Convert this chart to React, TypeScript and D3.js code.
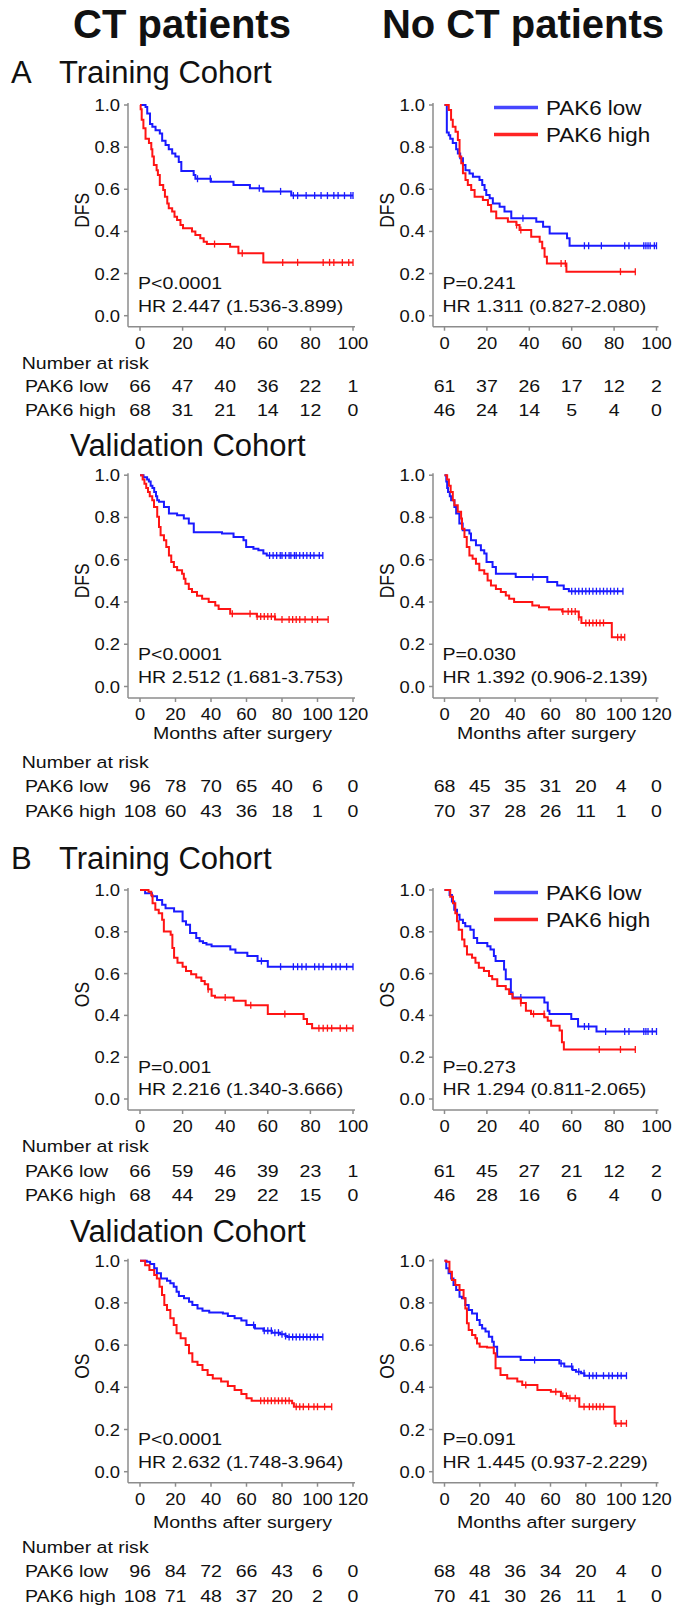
import React from 'react';
import * as d3 from 'd3';

type Step = [number, number];

const FONT = '"Liberation Sans", Arial, Helvetica, sans-serif';
const SX = 1.15; // the small figure text is slightly widened
const BLUE = '#1a1aff';
const RED = '#ff1414';
const AXIS = '#8c8c8c';
const INK = '#111';

const columnTitles = ['CT patients', 'No CT patients'];
const seriesNames = ['PAK6 low', 'PAK6 high'];
const yTicks = [0, 0.2, 0.4, 0.6, 0.8, 1.0];
const ticks100 = [0, 20, 40, 60, 80, 100];
const ticks120 = [0, 20, 40, 60, 80, 100, 120];

// ---------- A: DFS, training cohort, CT ----------
const aTrainCtLow: Step[] = [[2.6, 0.99], [3.4, 0.96], [4.7, 0.91], [5.8, 0.897], [7.3, 0.88], [9.3, 0.865], [10.4, 0.83], [12, 0.81], [13.5, 0.79], [15.1, 0.77], [16.6, 0.755], [18.2, 0.73], [19.4, 0.687], [25.2, 0.668], [26, 0.65], [33.3, 0.636], [43.9, 0.62], [51.6, 0.605], [57.9, 0.59], [71, 0.57]];
const aTrainCtLowCens = [27, 33, 56, 66, 72, 74, 78, 82, 85, 88, 91, 93, 96, 99, 100];
const aTrainCtHigh: Step[] = [[0.3, 0.98], [0.8, 0.93], [1.6, 0.89], [2.6, 0.84], [4.2, 0.82], [5.3, 0.79], [5.8, 0.755], [6.5, 0.715], [7.8, 0.69], [8.4, 0.668], [9.3, 0.62], [10.9, 0.597], [11.7, 0.565], [12.8, 0.533], [13.5, 0.51], [15.1, 0.494], [16.2, 0.47], [17.4, 0.454], [19, 0.43], [20.2, 0.415], [24.4, 0.4], [26, 0.383], [28.3, 0.367], [29.9, 0.351], [31.4, 0.34], [42.3, 0.327], [46.2, 0.296], [57.9, 0.253]];
const aTrainCtHighCens = [35, 48, 67, 74, 86, 89, 91, 95, 98, 100];
const aTrainCtRiskLow = [66, 47, 40, 36, 22, 1];
const aTrainCtRiskHigh = [68, 31, 21, 14, 12, 0];

// ---------- A: DFS, training cohort, no CT ----------
const aTrainNoLow: Step[] = [[1.1, 0.87], [2, 0.857], [2.7, 0.84], [3.9, 0.82], [5.5, 0.79], [6.3, 0.77], [7.4, 0.747], [8.7, 0.715], [9.9, 0.69], [11.8, 0.675], [13.4, 0.66], [16.5, 0.644], [17.8, 0.62], [18.9, 0.597], [19.7, 0.573], [21.3, 0.557], [22.8, 0.533], [26, 0.517], [28.3, 0.494], [31.5, 0.462], [43.3, 0.446], [46.5, 0.422], [49.6, 0.39], [57.8, 0.367], [59, 0.332]];
const aTrainNoLowCens = [37, 66, 68, 74, 85, 87, 94, 95, 96, 97, 99, 100];
const aTrainNoHigh: Step[] = [[2, 0.976], [3.1, 0.93], [3.9, 0.897], [5.2, 0.873], [6.3, 0.834], [7.1, 0.755], [7.9, 0.723], [8.7, 0.676], [9.9, 0.644], [11, 0.62], [12.6, 0.597], [14.2, 0.565], [18.1, 0.549], [20.5, 0.525], [22, 0.494], [24.4, 0.462], [29.9, 0.446], [33.9, 0.43], [35.4, 0.407], [40.9, 0.375], [44.9, 0.351], [46.1, 0.32], [47.2, 0.28], [48.3, 0.248], [57.5, 0.209]];
const aTrainNoHighCens = [34, 36, 55, 57, 83, 90];
const aTrainNoRiskLow = [61, 37, 26, 17, 12, 2];
const aTrainNoRiskHigh = [46, 24, 14, 5, 4, 0];

// ---------- A: DFS, validation cohort, CT ----------
const aValCtLow: Step[] = [[2, 0.99], [4, 0.98], [5, 0.97], [6, 0.95], [7, 0.94], [8, 0.92], [9, 0.9], [9.7, 0.882], [10.7, 0.874], [13.5, 0.85], [16.3, 0.819], [20.9, 0.81], [24.7, 0.795], [27.5, 0.771], [30.3, 0.73], [46.2, 0.724], [52.7, 0.708], [58.3, 0.692], [59.8, 0.66], [63.9, 0.652], [66.7, 0.645], [69.5, 0.629], [71.4, 0.62]];
const aValCtLowCens = [73, 75, 77, 79, 80, 82, 84, 85, 87, 88, 90, 92, 94, 96, 98, 101, 103];
const aValCtHigh: Step[] = [[1.5, 0.98], [2.5, 0.96], [3.5, 0.94], [4.5, 0.92], [5.5, 0.9], [6.9, 0.882], [7.9, 0.85], [9.7, 0.803], [10.7, 0.755], [11.6, 0.716], [13.5, 0.692], [14.8, 0.66], [16.3, 0.62], [17.6, 0.589], [19.1, 0.565], [20.9, 0.55], [23.7, 0.534], [24.7, 0.51], [25.6, 0.486], [27.5, 0.462], [29.3, 0.447], [32.1, 0.43], [35, 0.415], [38.7, 0.4], [42.4, 0.383], [44.3, 0.367], [50.8, 0.344], [65.8, 0.331], [76.1, 0.317]];
const aValCtHighCens = [52, 62, 66, 68, 70, 72, 74, 76, 80, 84, 86, 88, 90, 93, 97, 100, 106];
const aValCtRiskLow = [96, 78, 70, 65, 40, 6, 0];
const aValCtRiskHigh = [108, 60, 43, 36, 18, 1, 0];

// ---------- A: DFS, validation cohort, no CT ----------
const aValNoLow: Step[] = [[1, 0.97], [1.5, 0.94], [2, 0.92], [3, 0.9], [3.75, 0.882], [5.6, 0.85], [6.6, 0.819], [8.4, 0.771], [10.3, 0.74], [14.1, 0.724], [15, 0.692], [17.8, 0.668], [20.6, 0.645], [22.5, 0.629], [23.8, 0.589], [27.2, 0.565], [29.1, 0.534], [40.3, 0.518], [58.2, 0.494], [63.8, 0.478], [67.5, 0.462], [70.4, 0.451]];
const aValNoLowCens = [50, 72, 74, 76, 78, 80, 82, 84, 86, 88, 90, 92, 94, 96, 98, 101];
const aValNoHigh: Step[] = [[1.5, 0.98], [2.5, 0.95], [3.5, 0.92], [4.7, 0.882], [5.6, 0.858], [7.5, 0.827], [9.4, 0.795], [9.9, 0.747], [11.3, 0.708], [12.6, 0.66], [14.1, 0.62], [15.9, 0.605], [17.8, 0.581], [19.7, 0.55], [22.5, 0.534], [24.4, 0.502], [26.3, 0.478], [29.1, 0.462], [31.9, 0.447], [34.7, 0.431], [36.6, 0.415], [39.4, 0.4], [49.7, 0.383], [53.5, 0.375], [59.1, 0.364], [66.6, 0.355], [76, 0.328], [77.5, 0.301], [94.7, 0.233]];
const aValNoHighCens = [67, 70, 72, 74, 76, 80, 82, 84, 86, 88, 90, 98, 100, 102];
const aValNoRiskLow = [68, 45, 35, 31, 20, 4, 0];
const aValNoRiskHigh = [70, 37, 28, 26, 11, 1, 0];

// ---------- B: OS, training cohort, CT ----------
const bTrainCtLow: Step[] = [[2.4, 0.984], [5.6, 0.97], [8, 0.952], [10.4, 0.929], [12, 0.913], [16, 0.897], [20, 0.85], [21.6, 0.834], [23.5, 0.794], [26.4, 0.77], [28, 0.755], [29.6, 0.747], [31.2, 0.739], [33.6, 0.731], [42.4, 0.715], [44.8, 0.7], [50.4, 0.684], [55.2, 0.66], [60, 0.633]];
const bTrainCtLowCens = [57, 66, 72, 74, 76, 78, 82, 84, 86, 90, 92, 94, 97, 100];
const bTrainCtHigh: Step[] = [[4, 0.992], [5.3, 0.975], [5.9, 0.937], [7.2, 0.905], [8.8, 0.889], [10.4, 0.858], [11.2, 0.802], [14.4, 0.786], [15.2, 0.723], [16, 0.676], [17.6, 0.652], [20, 0.633], [21.6, 0.612], [24, 0.597], [26.4, 0.581], [28.8, 0.565], [30.4, 0.549], [32, 0.525], [33.6, 0.494], [35.2, 0.486], [44, 0.47], [49.6, 0.449], [60, 0.407], [76.8, 0.383], [78.4, 0.359], [80.8, 0.339]];
const bTrainCtHighCens = [32, 40, 52, 68, 84, 86, 88, 90, 94, 97, 100];
const bTrainCtRiskLow = [66, 59, 46, 39, 23, 1];
const bTrainCtRiskHigh = [68, 44, 29, 22, 15, 0];

// ---------- B: OS, training cohort, no CT ----------
const bTrainNoLow: Step[] = [[2.4, 0.976], [3.5, 0.945], [4.6, 0.905], [5.9, 0.881], [7.1, 0.858], [8.7, 0.842], [9.8, 0.826], [12.2, 0.81], [13.8, 0.77], [15.4, 0.747], [20.2, 0.731], [21.7, 0.715], [23.3, 0.684], [24.1, 0.66], [28.1, 0.62], [28.9, 0.573], [31.3, 0.51], [32.1, 0.486], [47.1, 0.462], [48.7, 0.422], [49.5, 0.407], [59.8, 0.383], [63, 0.347], [71.7, 0.323]];
const bTrainNoLowCens = [36, 66, 68, 76, 85, 87, 94, 95, 96, 98, 100];
const bTrainNoHigh: Step[] = [[2.7, 0.968], [4, 0.937], [5.1, 0.889], [5.9, 0.85], [6.7, 0.81], [8.3, 0.763], [9.4, 0.731], [10.6, 0.691], [13, 0.676], [14.6, 0.652], [16.2, 0.628], [18.6, 0.612], [21, 0.589], [22.5, 0.573], [24.9, 0.541], [28.9, 0.525], [30.5, 0.502], [32.1, 0.481], [36, 0.459], [38.4, 0.422], [40.8, 0.407], [47.1, 0.391], [48.7, 0.375], [50.3, 0.351], [54.3, 0.328], [55.4, 0.272], [56.3, 0.237]];
const bTrainNoHighCens = [36, 42, 47, 73, 83, 90];
const bTrainNoRiskLow = [61, 45, 27, 21, 12, 2];
const bTrainNoRiskHigh = [46, 28, 16, 6, 4, 0];

// ---------- B: OS, validation cohort, CT ----------
const bValCtLow: Step[] = [[3.8, 0.995], [5.7, 0.984], [8, 0.964], [9.5, 0.94], [11.8, 0.916], [15.2, 0.905], [17.1, 0.893], [19, 0.877], [20.6, 0.853], [21.9, 0.833], [24.8, 0.822], [27.6, 0.806], [29.5, 0.79], [32.4, 0.774], [35.2, 0.763], [39, 0.754], [46.7, 0.75], [49.5, 0.738], [53.3, 0.727], [57.1, 0.716], [60, 0.695], [64.8, 0.679], [69.5, 0.668], [74.3, 0.659], [79, 0.652], [81.9, 0.643], [83, 0.638]];
const bValCtLowCens = [64, 70, 72, 74, 76, 78, 80, 82, 84, 86, 88, 90, 92, 94, 96, 98, 100, 103];
const bValCtHigh: Step[] = [[2.9, 0.979], [5.3, 0.956], [8, 0.932], [9.5, 0.916], [11, 0.877], [12.4, 0.837], [13.7, 0.79], [15.2, 0.766], [17.1, 0.727], [19, 0.695], [20.6, 0.656], [22.9, 0.632], [25.7, 0.6], [27.6, 0.561], [29.5, 0.521], [32.4, 0.506], [35.2, 0.482], [38.1, 0.458], [41, 0.442], [45.7, 0.427], [49.5, 0.406], [53.3, 0.387], [57.1, 0.368], [60, 0.348], [62.9, 0.336], [85.7, 0.324], [86.7, 0.308]];
const bValCtHighCens = [68, 70, 72, 74, 76, 78, 80, 82, 84, 88, 90, 92, 95, 98, 100, 104, 108];
const bValCtRiskLow = [96, 84, 72, 66, 43, 6, 0];
const bValCtRiskHigh = [108, 71, 48, 37, 20, 2, 0];

// ---------- B: OS, validation cohort, no CT ----------
const bValNoLow: Step[] = [[1, 0.964], [2.3, 0.94], [3.8, 0.916], [5.1, 0.885], [6.6, 0.861], [8.5, 0.829], [9.9, 0.822], [11.8, 0.79], [13.7, 0.766], [15.6, 0.75], [18.4, 0.719], [19.9, 0.695], [21.3, 0.679], [23.2, 0.664], [25.1, 0.64], [27, 0.616], [27.9, 0.592], [29.8, 0.545], [43.1, 0.529], [65, 0.513], [67.8, 0.498], [72.5, 0.482], [74.4, 0.474], [77.3, 0.466], [79.2, 0.455]];
const bValNoLowCens = [51, 66, 72, 76, 79, 82, 84, 86, 90, 93, 95, 98, 100, 103];
const bValNoHigh: Step[] = [[1, 0.995], [2.8, 0.948], [4.2, 0.908], [6.1, 0.885], [8.5, 0.861], [10.8, 0.822], [11.8, 0.774], [12.7, 0.703], [13.7, 0.671], [15.6, 0.648], [17.5, 0.632], [18.4, 0.608], [19.9, 0.592], [24.1, 0.589], [27.9, 0.561], [28.9, 0.49], [31.7, 0.458], [35.5, 0.442], [41.2, 0.427], [44, 0.411], [52.6, 0.387], [60.2, 0.379], [65.9, 0.359], [69.7, 0.348], [76.3, 0.308], [96.3, 0.229]];
const bValNoHighCens = [46, 63, 67, 69, 71, 74, 79, 82, 84, 86, 88, 90, 97, 100, 103];
const bValNoRiskLow = [68, 48, 36, 34, 20, 4, 0];
const bValNoRiskHigh = [70, 41, 30, 26, 11, 1, 0];

// layout of the two columns and four rows
const cols = [
  { axisX: 128, x0: 140, x1: 353 },
  { axisX: 433, x0: 444.5, x1: 656.5 },
];
const rows = [
  { y1: 105, y0: 315.7, axisY: 326.7, months: 0, nar: 369.3, low: 391.5, high: 415.5 },
  { y1: 475.2, y0: 686.5, axisY: 698, months: 738.5, nar: 768.3, low: 792, high: 816.5 },
  { y1: 890, y0: 1099, axisY: 1110, months: 0, nar: 1152, low: 1176.5, high: 1200.5 },
  { y1: 1260.7, y0: 1471.7, axisY: 1482.7, months: 1528, nar: 1553, low: 1577.3, high: 1602 },
];

interface PanelSpec {
  row: number;
  col: number;
  ylabel: string;
  ticks: number[];
  low: Step[]; lowCens: number[];
  high: Step[]; highCens: number[];
  riskLow: number[]; riskHigh: number[];
  p: string; hr: string;
  legend?: boolean;
}

const panels: PanelSpec[] = [
  { row: 0, col: 0, ylabel: 'DFS', ticks: ticks100, low: aTrainCtLow, lowCens: aTrainCtLowCens, high: aTrainCtHigh, highCens: aTrainCtHighCens, riskLow: aTrainCtRiskLow, riskHigh: aTrainCtRiskHigh, p: 'P<0.0001', hr: 'HR 2.447 (1.536-3.899)' },
  { row: 0, col: 1, ylabel: 'DFS', ticks: ticks100, low: aTrainNoLow, lowCens: aTrainNoLowCens, high: aTrainNoHigh, highCens: aTrainNoHighCens, riskLow: aTrainNoRiskLow, riskHigh: aTrainNoRiskHigh, p: 'P=0.241', hr: 'HR 1.311 (0.827-2.080)', legend: true },
  { row: 1, col: 0, ylabel: 'DFS', ticks: ticks120, low: aValCtLow, lowCens: aValCtLowCens, high: aValCtHigh, highCens: aValCtHighCens, riskLow: aValCtRiskLow, riskHigh: aValCtRiskHigh, p: 'P<0.0001', hr: 'HR 2.512 (1.681-3.753)' },
  { row: 1, col: 1, ylabel: 'DFS', ticks: ticks120, low: aValNoLow, lowCens: aValNoLowCens, high: aValNoHigh, highCens: aValNoHighCens, riskLow: aValNoRiskLow, riskHigh: aValNoRiskHigh, p: 'P=0.030', hr: 'HR 1.392 (0.906-2.139)' },
  { row: 2, col: 0, ylabel: 'OS', ticks: ticks100, low: bTrainCtLow, lowCens: bTrainCtLowCens, high: bTrainCtHigh, highCens: bTrainCtHighCens, riskLow: bTrainCtRiskLow, riskHigh: bTrainCtRiskHigh, p: 'P=0.001', hr: 'HR 2.216 (1.340-3.666)' },
  { row: 2, col: 1, ylabel: 'OS', ticks: ticks100, low: bTrainNoLow, lowCens: bTrainNoLowCens, high: bTrainNoHigh, highCens: bTrainNoHighCens, riskLow: bTrainNoRiskLow, riskHigh: bTrainNoRiskHigh, p: 'P=0.273', hr: 'HR 1.294 (0.811-2.065)', legend: true },
  { row: 3, col: 0, ylabel: 'OS', ticks: ticks120, low: bValCtLow, lowCens: bValCtLowCens, high: bValCtHigh, highCens: bValCtHighCens, riskLow: bValCtRiskLow, riskHigh: bValCtRiskHigh, p: 'P<0.0001', hr: 'HR 2.632 (1.748-3.964)' },
  { row: 3, col: 1, ylabel: 'OS', ticks: ticks120, low: bValNoLow, lowCens: bValNoLowCens, high: bValNoHigh, highCens: bValNoHighCens, riskLow: bValNoRiskLow, riskHigh: bValNoRiskHigh, p: 'P=0.091', hr: 'HR 1.445 (0.937-2.229)' },
];

function T(props: { x: number; y: number; size: number; anchor?: string; weight?: string; rotate?: boolean; sx?: number; children: React.ReactNode }) {
  const { x, y, size, anchor = 'start', weight = 'normal', rotate, sx = SX, children } = props;
  return (
    <text
      transform={`translate(${x},${y}) scale(${sx},1)${rotate ? ' rotate(-90)' : ''}`}
      fontSize={size}
      fontWeight={weight}
      textAnchor={anchor as any}
      fill={INK}
    >
      {children}
    </text>
  );
}

function survAt(steps: Step[], t: number) {
  let s = 1;
  for (const [tt, ss] of steps) if (tt <= t) s = ss;
  return s;
}

function Panel({ spec }: { spec: PanelSpec }) {
  const c = cols[spec.col];
  const r = rows[spec.row];
  const xMax = spec.ticks[spec.ticks.length - 1];
  const x = d3.scaleLinear().domain([0, xMax]).range([c.x0, c.x1]);
  const y = d3.scaleLinear().domain([0, 1]).range([r.y0, r.y1]);
  const line = d3.line<Step>().x(d => x(d[0])).y(d => y(d[1])).curve(d3.curveStepAfter);

  const curve = (steps: Step[], cens: number[], color: string) => {
    const end = Math.max(d3.max(cens) ?? 0, steps[steps.length - 1][0]);
    const pts: Step[] = [[0, 1], ...steps, [end, steps[steps.length - 1][1]]];
    return (
      <g stroke={color} fill="none">
        <path d={line(pts) ?? ''} strokeWidth={2} />
        {cens.map((t, i) => {
          const yy = y(survAt(steps, t));
          return <line key={i} x1={x(t)} x2={x(t)} y1={yy - 3.5} y2={yy + 3.5} strokeWidth={1.3} />;
        })}
      </g>
    );
  };

  const ymid = (r.y0 + r.y1) / 2;
  return (
    <g>
      {/* axes */}
      <g stroke={AXIS} strokeWidth={1.5} fill="none">
        <line x1={c.axisX} x2={c.axisX} y1={r.y1 - 2} y2={r.axisY} />
        <line x1={c.axisX} x2={c.x1 + 2} y1={r.axisY} y2={r.axisY} />
        {yTicks.map(v => <line key={v} x1={c.axisX - 4} x2={c.axisX} y1={y(v)} y2={y(v)} />)}
        {spec.ticks.map(v => <line key={v} x1={x(v)} x2={x(v)} y1={r.axisY} y2={r.axisY + 4} />)}
      </g>
      {yTicks.map(v => (
        <T key={v} x={c.axisX - 8} y={y(v) + 6} size={16} anchor="end">{v.toFixed(1)}</T>
      ))}
      {spec.ticks.map(v => (
        <T key={v} x={x(v)} y={r.axisY + 22} size={16} anchor="middle">{v}</T>
      ))}
      <T x={c.axisX - 39} y={ymid} size={17.5} anchor="middle" rotate>{spec.ylabel}</T>
      {r.months ? <T x={(c.x0 + c.x1) / 2 - 4} y={r.months} size={17} anchor="middle">Months after surgery</T> : null}

      {curve(spec.low, spec.lowCens, BLUE)}
      {curve(spec.high, spec.highCens, RED)}

      <T x={c.x0 - 2} y={r.y0 - 26.4} size={17}>{spec.p}</T>
      <T x={c.x0 - 2} y={r.y0 - 4} size={17}>{spec.hr}</T>

      {spec.legend ? (
        <g>
          {seriesNames.map((n, i) => {
            const ly = r.y1 + 2.5 + i * 27;
            return (
              <g key={n}>
                <line x1={494} x2={538} y1={ly} y2={ly} stroke={i === 0 ? '#4646ff' : '#ff2424'} strokeWidth={3.5} />
                <T x={546} y={ly + 7} size={19.5}>{n}</T>
              </g>
            );
          })}
        </g>
      ) : null}

      {/* number at risk */}
      {spec.col === 0 ? (
        <g>
          <T x={21.7} y={r.nar} size={17}>Number at risk</T>
          <T x={25} y={r.low} size={17}>{seriesNames[0]}</T>
          <T x={25} y={r.high} size={17}>{seriesNames[1]}</T>
        </g>
      ) : null}
      {spec.riskLow.map((v, i) => (
        <T key={'l' + i} x={x(spec.ticks[i])} y={r.low} size={17} anchor="middle">{v}</T>
      ))}
      {spec.riskHigh.map((v, i) => (
        <T key={'h' + i} x={x(spec.ticks[i])} y={r.high} size={17} anchor="middle">{v}</T>
      ))}
    </g>
  );
}

export default function App() {
  return (
    <svg
      width={684}
      height={1607}
      viewBox="0 0 684 1607"
      style={{ position: 'absolute', left: 0, top: 0, background: '#fff', display: 'block' }}
      fontFamily={FONT}
    >
      <rect width={684} height={1607} fill="#fff" />
      <T x={182} y={38} size={40} anchor="middle" weight="bold" sx={1}>{columnTitles[0]}</T>
      <T x={523} y={38} size={40} anchor="middle" weight="bold" sx={1}>{columnTitles[1]}</T>

      <T x={11} y={83} size={31} sx={1}>A</T>
      <T x={59} y={83} size={31} sx={1}>Training Cohort</T>
      <T x={70} y={rows[1].y1 - 19} size={31} sx={1}>Validation Cohort</T>
      <T x={11} y={869} size={31} sx={1}>B</T>
      <T x={59} y={869} size={31} sx={1}>Training Cohort</T>
      <T x={70} y={rows[3].y1 - 19} size={31} sx={1}>Validation Cohort</T>

      {panels.map((p, i) => <Panel key={i} spec={p} />)}
    </svg>
  );
}
